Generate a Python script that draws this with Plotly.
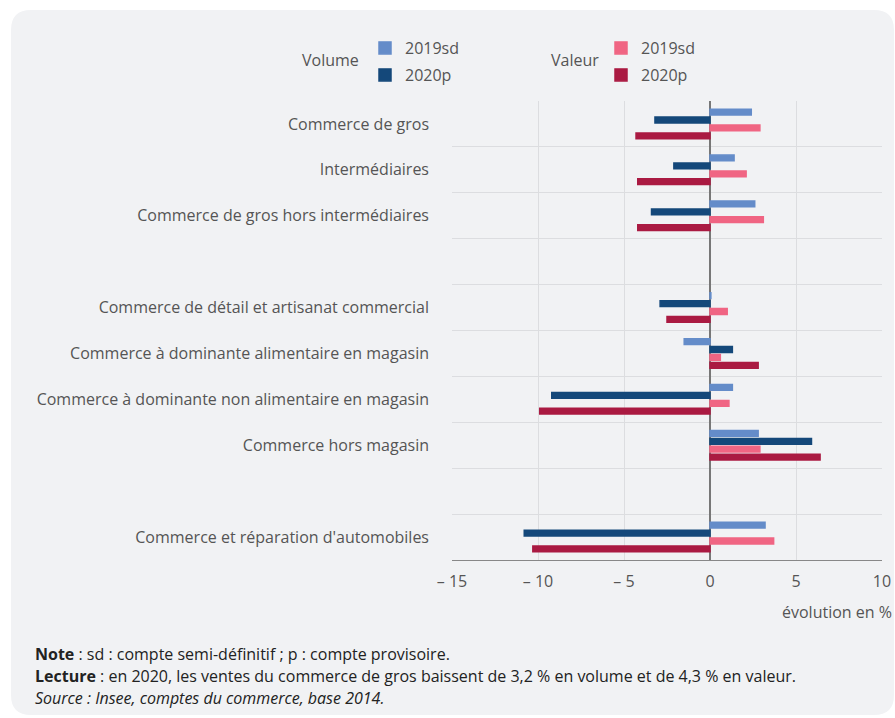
import plotly.graph_objects as go

categories = [
    "Commerce de gros",
    "Intermédiaires",
    "Commerce de gros hors intermédiaires",
    " ",
    "Commerce de détail et artisanat commercial",
    "Commerce à dominante alimentaire en magasin",
    "Commerce à dominante non alimentaire en magasin",
    "Commerce hors magasin",
    "  ",
    "Commerce et réparation d'automobiles",
]
volume_2019sd = [2.4, 1.4, 2.6, None, 0.05, -1.5, 1.3, 2.8, None, 3.2]
volume_2020p = [-3.2, -2.1, -3.4, None, -2.9, 1.3, -9.2, 5.9, None, -10.8]
valeur_2019sd = [2.9, 2.1, 3.1, None, 1.0, 0.6, 1.1, 2.9, None, 3.7]
valeur_2020p = [-4.3, -4.2, -4.2, None, -2.5, 2.8, -9.9, 6.4, None, -10.3]

x_tickvals = [-15, -10, -5, 0, 5, 10]
x_ticktext = ["– 15", "– 10", "– 5", "0", "5", "10"]

W, H = 895, 718
ML, MR, MT, MB = 452, 13, 101, 158
PW, PH = W - ML - MR, H - MT - MB


def px(x):
    return (x - ML) / PW


def py(y):
    return (H - MB - y) / PH


FONT = "Open Sans"
GREY = "#555555"
FS = 16

fig = go.Figure()
series = [
    ("2019sd", volume_2019sd, "#648cc9", "legend", 365, 48),
    ("2020p", volume_2020p, "#14487a", "legend2", 365, 75),
    ("2019sd", valeur_2019sd, "#f06583", "legend3", 601, 48),
    ("2020p", valeur_2020p, "#aa1a42", "legend4", 601, 75),
]
legends = {}
for name, vals, color, leg, lx, ly in series:
    fig.add_trace(go.Bar(
        y=categories, x=vals, name=name, orientation="h",
        marker=dict(color=color, line=dict(width=1.5, color=color)),
        legend=leg,
    ))
    legends[leg] = dict(
        orientation="v", bgcolor="rgba(0,0,0,0)", yanchor="middle", xanchor="left",
        x=px(lx), y=py(ly), font=dict(family=FONT, size=FS, color=GREY),
    )

# rounded background panel
x0, y0, x1, y1, r = 11, 10, 894, 715, 20
path = (
    f"M {px(x0 + r)} {py(y0)} L {px(x1 - r)} {py(y0)} "
    f"Q {px(x1)} {py(y0)} {px(x1)} {py(y0 + r)} "
    f"L {px(x1)} {py(y1 - r)} Q {px(x1)} {py(y1)} {px(x1 - r)} {py(y1)} "
    f"L {px(x0 + r)} {py(y1)} Q {px(x0)} {py(y1)} {px(x0)} {py(y1 - r)} "
    f"L {px(x0)} {py(y0 + r)} Q {px(x0)} {py(y0)} {px(x0 + r)} {py(y0)} Z"
)
fig.add_shape(type="path", path=path, xref="paper", yref="paper",
              fillcolor="#f1f2f4", line=dict(width=0), layer="below")

annotations = [
    dict(text="Volume", x=px(361), y=py(60), xanchor="right", yanchor="middle",
         font=dict(size=FS, color=GREY)),
    dict(text="Valeur", x=px(601), y=py(60), xanchor="right", yanchor="middle",
         font=dict(size=FS, color=GREY)),
    dict(text="évolution en %", x=px(894), y=py(612), xanchor="right", yanchor="middle",
         font=dict(size=FS, color=GREY)),
    dict(text="<b>Note</b> : sd : compte semi-définitif ; p : compte provisoire.",
         x=px(33), y=py(654), xanchor="left", yanchor="middle",
         font=dict(size=FS, color="#222222")),
    dict(text="<b>Lecture</b> : en 2020, les ventes du commerce de gros baissent de 3,2 % en volume et de 4,3 % en valeur.",
         x=px(33), y=py(676), xanchor="left", yanchor="middle",
         font=dict(size=FS, color="#222222")),
    dict(text="<i>Source : Insee, comptes du commerce, base 2014.</i>",
         x=px(33), y=py(698), xanchor="left", yanchor="middle",
         font=dict(size=FS, color="#222222")),
]
for a in annotations:
    a.update(xref="paper", yref="paper", showarrow=False)

fig.update_layout(
    width=W, height=H,
    margin=dict(l=ML, r=MR, t=MT, b=MB, pad=0, autoexpand=False),
    paper_bgcolor="white", plot_bgcolor="rgba(0,0,0,0)",
    font=dict(family=FONT, size=FS, color=GREY),
    barmode="group", bargap=0.31, bargroupgap=0.27,
    showlegend=True,
    annotations=annotations,
    xaxis=dict(
        range=[-15, 10], tickvals=x_tickvals, ticktext=x_ticktext,
        showgrid=True, gridcolor="#dcdde0", gridwidth=1,
        zeroline=True, zerolinecolor="#777777", zerolinewidth=1.5,
        showline=True, linecolor="#888888", linewidth=1,
        ticks="", ticklabelstandoff=7, tickfont=dict(size=FS, color=GREY),
        fixedrange=True, automargin=False,
    ),
    yaxis=dict(
        type="category", categoryorder="array", categoryarray=categories,
        autorange="reversed", tickson="boundaries",
        showgrid=True, gridcolor="#dcdde0", gridwidth=1,
        ticks="", ticklabelstandoff=22, tickfont=dict(size=FS, color=GREY),
        showline=False, zeroline=False, automargin=False,
    ),
    **legends,
)

fig.write_html("out.html")
